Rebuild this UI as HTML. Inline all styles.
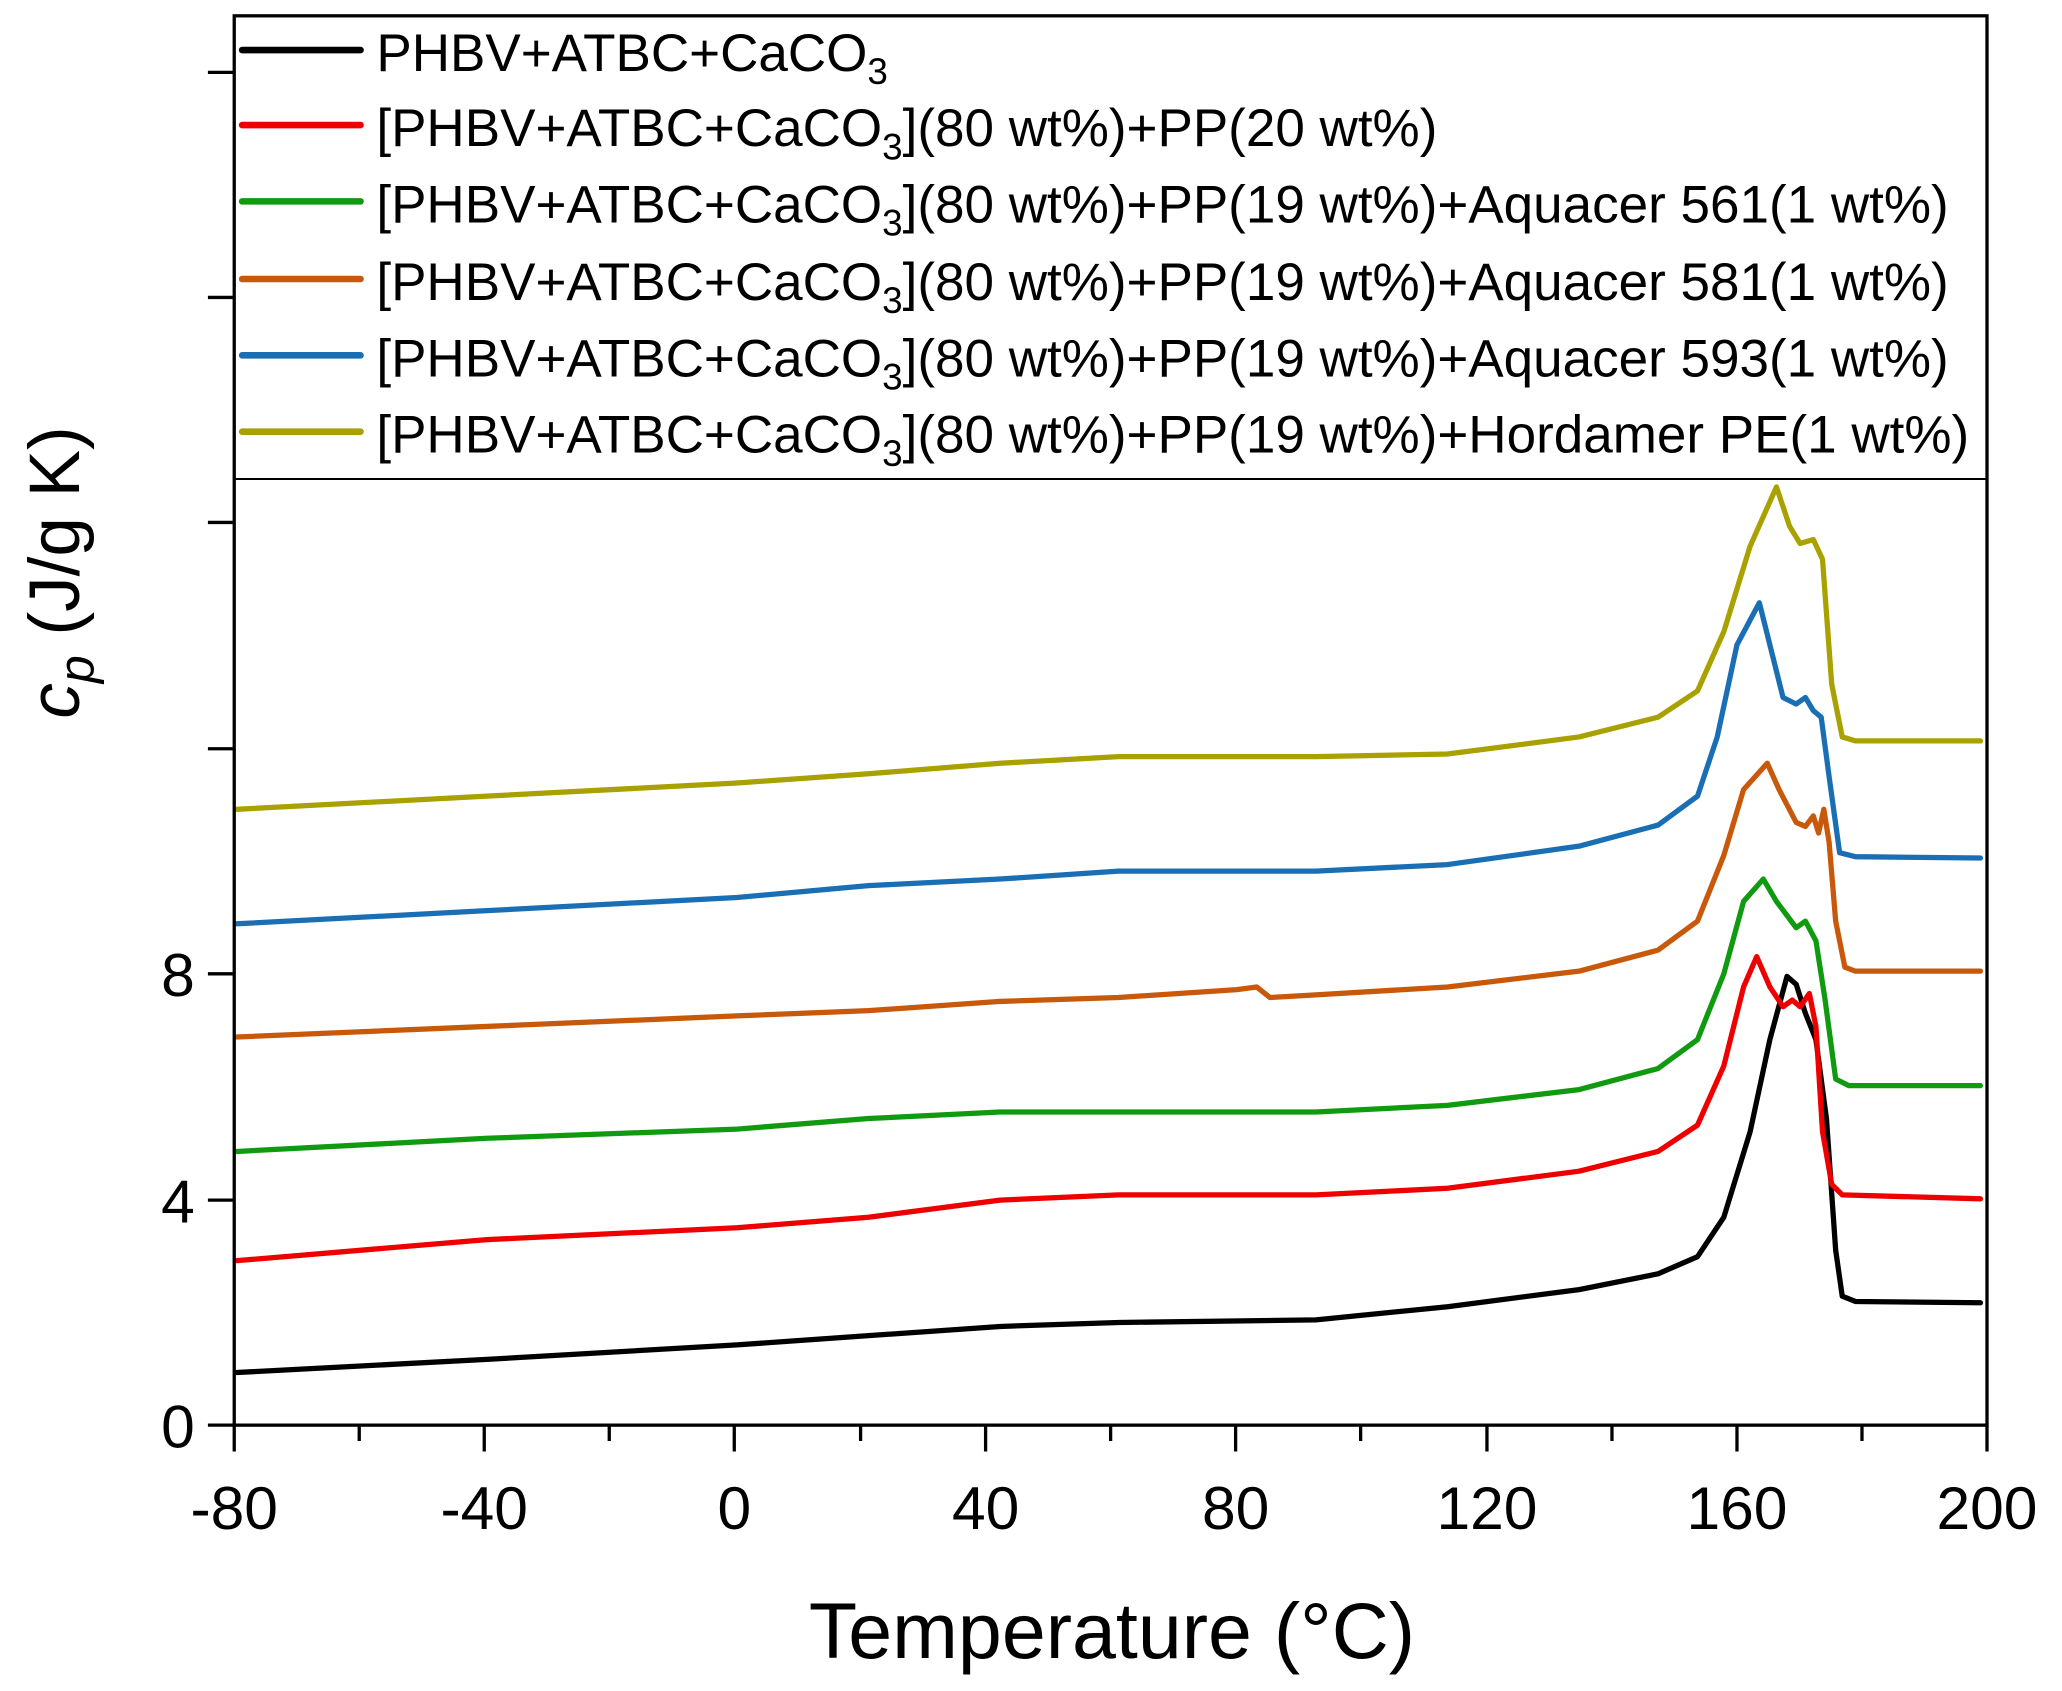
<!DOCTYPE html>
<html><head><meta charset="utf-8"><style>html,body{margin:0;padding:0;background:#fff}svg{display:block}</style></head>
<body>
<svg width="2062" height="1691" viewBox="0 0 1567 1285" xmlns="http://www.w3.org/2000/svg" font-family="Liberation Sans, Arial, sans-serif">
<rect width="1600" height="1300" fill="#fff"/>
<g fill="none" stroke-width="4" stroke-linejoin="round" stroke-linecap="round">
<polyline stroke="#000" points="180,1043 370,1033 560,1022 660,1015 760,1008 850,1005 1000,1003 1100,993 1200,980 1260,968 1290,955 1310,925 1330,860 1345,790 1358,742 1365,748 1372,770 1380,790 1388,850 1395,950 1400,985 1410,989 1505,990"/>
<polyline stroke="#ee0000" points="180,958 370,942 560,933 660,925 760,912 850,908 1000,908 1100,903 1200,890 1260,875 1290,855 1310,810 1325,750 1335,727 1345,750 1355,765 1362,760 1368,765 1375,755 1380,780 1385,860 1392,900 1400,908 1505,911"/>
<polyline stroke="#109a10" points="180,875 370,865 560,858 660,850 760,845 850,845 1000,845 1100,840 1200,828 1260,812 1290,790 1310,740 1325,685 1340,668 1350,685 1365,705 1372,700 1380,715 1387,760 1395,820 1405,825 1505,825"/>
<polyline stroke="#c8580a" points="180,788 370,780 560,772 660,768 760,761 850,758 940,752 955,750 965,758 1000,756 1100,750 1200,738 1260,722 1290,700 1310,650 1325,600 1343,580 1352,600 1365,625 1372,628 1378,620 1382,633 1386,615 1390,640 1395,700 1402,735 1410,738 1505,738"/>
<polyline stroke="#1a6fb4" points="180,702 370,692 560,682 660,673 760,668 850,662 1000,662 1100,657 1200,643 1260,627 1290,605 1305,560 1320,490 1337,458 1345,490 1355,530 1365,535 1372,530 1378,540 1384,545 1390,590 1398,648 1410,651 1505,652"/>
<polyline stroke="#a9a100" points="180,615 370,605 560,595 660,588 760,580 850,575 1000,575 1100,573 1200,560 1260,545 1290,525 1310,480 1330,415 1350,370 1360,400 1368,413 1378,410 1385,425 1392,520 1400,560 1410,563 1505,563"/>
</g>
<g stroke="#000" stroke-width="2.5" fill="none">
<rect x="178" y="12" width="1332" height="1071"/>
<line x1="178" y1="364" x2="1510" y2="364" stroke-width="1.5"/>
<line x1="158" y1="1083" x2="178" y2="1083"/>
<line x1="158" y1="912" x2="178" y2="912"/>
<line x1="158" y1="740" x2="178" y2="740"/>
<line x1="158" y1="569" x2="178" y2="569"/>
<line x1="158" y1="397" x2="178" y2="397"/>
<line x1="158" y1="226" x2="178" y2="226"/>
<line x1="158" y1="55" x2="178" y2="55"/>
<path d="M178,1083v20M368,1083v20M558,1083v20M749,1083v20M939,1083v20M1130,1083v20M1320,1083v20M1510,1083v20"/>
<path d="M273,1083v12M463,1083v12M654,1083v12M844,1083v12M1034,1083v12M1225,1083v12M1415,1083v12"/>
</g>
<g font-size="46" text-anchor="middle" fill="#000">
<text x="178" y="1162">-80</text><text x="368" y="1162">-40</text><text x="558" y="1162">0</text><text x="749" y="1162">40</text><text x="939" y="1162">80</text><text x="1130" y="1162">120</text><text x="1320" y="1162">160</text><text x="1510" y="1162">200</text>
</g>
<g font-size="46" text-anchor="end" fill="#000">
<text x="148" y="1100">0</text><text x="148" y="929">4</text><text x="148" y="757">8</text>
</g>
<text x="845" y="1260" font-size="60" text-anchor="middle">Temperature (°C)</text>
<text transform="translate(60,435) rotate(-90)" font-size="54" text-anchor="middle"><tspan font-style="italic">c</tspan><tspan font-style="italic" font-size="38" dy="11">p</tspan><tspan dy="-11">  (J/g K)</tspan></text>
<g stroke-width="5" stroke-linecap="round">
<line x1="184" y1="38" x2="274" y2="38" stroke="#000"/>
<line x1="184" y1="95" x2="274" y2="95" stroke="#ee0000"/>
<line x1="184" y1="153" x2="274" y2="153" stroke="#109a10"/>
<line x1="184" y1="212" x2="274" y2="212" stroke="#c8580a"/>
<line x1="184" y1="270" x2="274" y2="270" stroke="#1a6fb4"/>
<line x1="184" y1="328" x2="274" y2="328" stroke="#a9a100"/>
</g>
<g font-size="40.3" fill="#000">
<text x="286" y="54">PHBV+ATBC+CaCO<tspan font-size="28" dy="10">3</tspan></text>
<text x="286" y="111">[PHBV+ATBC+CaCO<tspan font-size="28" dy="10">3</tspan><tspan dy="-10">](80 wt%)+PP(20 wt%)</tspan></text>
<text x="286" y="169">[PHBV+ATBC+CaCO<tspan font-size="28" dy="10">3</tspan><tspan dy="-10">](80 wt%)+PP(19 wt%)+Aquacer 561(1 wt%)</tspan></text>
<text x="286" y="228">[PHBV+ATBC+CaCO<tspan font-size="28" dy="10">3</tspan><tspan dy="-10">](80 wt%)+PP(19 wt%)+Aquacer 581(1 wt%)</tspan></text>
<text x="286" y="286">[PHBV+ATBC+CaCO<tspan font-size="28" dy="10">3</tspan><tspan dy="-10">](80 wt%)+PP(19 wt%)+Aquacer 593(1 wt%)</tspan></text>
<text x="286" y="344">[PHBV+ATBC+CaCO<tspan font-size="28" dy="10">3</tspan><tspan dy="-10">](80 wt%)+PP(19 wt%)+Hordamer PE(1 wt%)</tspan></text>
</g>
</svg>
</body></html>
